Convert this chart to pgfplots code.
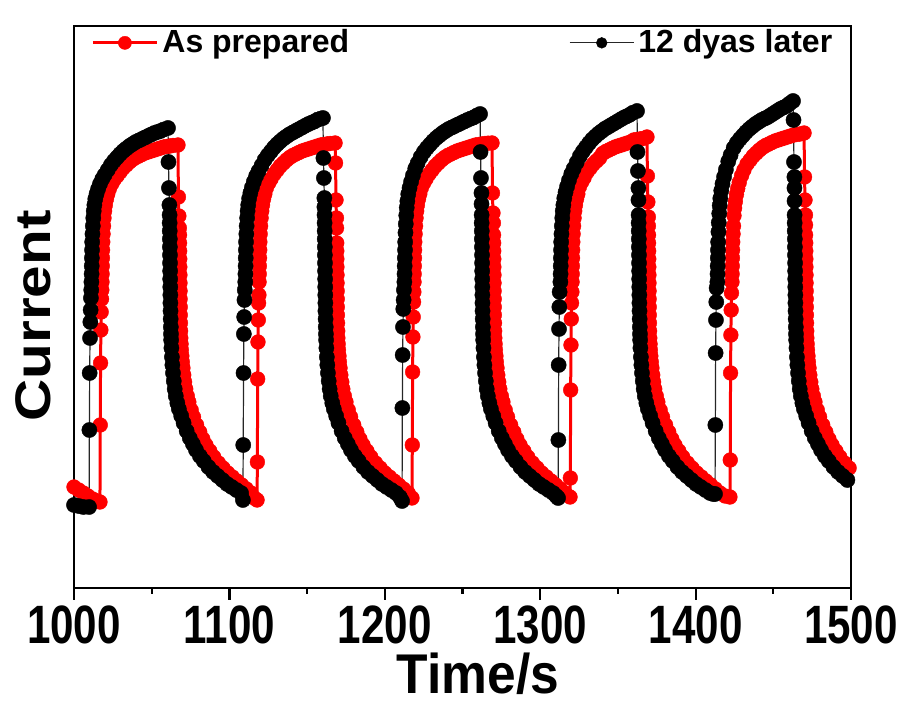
\documentclass[border=0pt]{standalone}
\usepackage{fontspec}
\setmainfont{Liberation Sans}
\usepackage{graphicx}
\usepackage{pgfplots}
\pgfplotsset{compat=1.18}
\newcommand\tl[1]{\scalebox{0.78}[1]{#1}}
\pgfplotsset{
  leg red/.style={legend image code/.code={\draw[mark repeat=2,mark phase=2,##1,mark size=3.3pt] plot coordinates {(0pt,0pt) (16pt,0pt) (32pt,0pt)};}},
  leg black/.style={legend image code/.code={\draw[mark repeat=2,mark phase=2,##1,mark size=2.7pt] plot coordinates {(0pt,0pt) (16pt,0pt) (32pt,0pt)};}},
}
\begin{document}
\begin{tikzpicture}
\begin{axis}[
  scale only axis, width=388.5pt, height=281pt,
  xmin=1000, xmax=1500, ymin=0, ymax=562,
  xtick={1000,1100,1200,1300,1400,1500},
  xticklabels={\tl{1000},\tl{1100},\tl{1200},\tl{1300},\tl{1400},\tl{1500}},
  minor x tick num=1,
  ytick=\empty,
  xtick pos=bottom,
  tick align=outside,
  major tick length=6pt, minor tick length=3pt,
  every tick/.style={black, line width=1.1pt},
  axis line style={line width=1.25pt},
  xticklabel style={font=\fontsize{27}{27}\selectfont\bfseries, inner sep=0pt, anchor=north, yshift=-2.5pt},
  xlabel={\scalebox{0.92}[1]{Time/s}},
  xlabel style={font=\fontsize{28}{28}\selectfont\bfseries, at={(axis description cs:0.52,-0.152)}, anchor=center, inner sep=0pt},
  ylabel={\scalebox{1.17}[1]{Current}},
  ylabel style={font=\fontsize{25}{25}\selectfont\bfseries, at={(axis description cs:-0.052,0.484)}, anchor=center, inner sep=0pt},
  legend columns=2,
  legend cell align=left,
  legend style={draw=none, fill=none, at={(axis description cs:0.0219,0.970)}, anchor=west, inner sep=0pt, font=\fontsize{16}{16}\selectfont\bfseries, /tikz/every even column/.append style={column sep=108pt}},
]
\coordinate (sw) at (rel axis cs:0,0);
\addplot[red, line width=1.5pt, mark=*, mark size=3.7pt, mark options={solid, fill=red, draw=red, line width=0.2pt}, leg red]
coordinates {
(1000,101) (1003,98) (1006,95) (1009,92) (1012,89) (1015,87)
(1016.7,86) (1016.9,163) (1017.1,225) (1017.3,258) (1017.5,276) (1017.7,289) (1017.9,298) (1018.0,306) (1018.1,314) (1018.2,322) (1018.3,330) (1018.4,338) (1018.5,346) (1018.7,354) (1019.0,362) (1019.3,370) (1019.7,377) (1020.2,383) (1020.9,389) (1021.7,394) (1022.7,399) (1024.2,404) (1025.7,408) (1027.7,412) (1029.7,416) (1031.7,420) (1033.7,423) (1035.7,426) (1037.7,428.5) (1039.7,430.5) (1041.7,432) (1043.7,433.5) (1045.7,435) (1047.7,436) (1049.7,437) (1051.7,438) (1053.7,439) (1055.7,440) (1057.7,441) (1059.7,441.5) (1061.7,442) (1063.7,442.5) (1066.9,443)
(1067.2,391) (1067.5,372) (1067.8,360) (1067.9,353) (1067.95,345) (1068.0,337) (1068.05,329) (1068.1,321) (1068.15,313) (1068.2,305) (1068.25,297) (1068.3,289) (1068.35,281) (1068.4,273) (1068.5,265) (1068.6,257) (1068.7,250) (1068.9,244) (1069.1,238) (1069.4,232) (1069.7,226) (1070.1,220) (1070.6,213) (1071.2,206) (1071.9,199) (1072.9,192) (1073.9,186) (1075.4,178) (1076.9,171) (1078.9,163) (1080.9,156) (1082.9,149) (1084.9,143) (1087.4,137) (1089.9,131) (1092.9,125) (1095.9,120) (1098.9,115) (1101.9,111) (1104.9,107) (1107.9,103) (1110.9,99) (1113.9,95) (1116.0,90)
(1117.8,88) (1118.0,126) (1118.2,209) (1118.4,246) (1118.6,268) (1118.8,285) (1119.0,293) (1119.1,306) (1119.2,314) (1119.3,322) (1119.4,330) (1119.5,338) (1119.6,346) (1119.8,354) (1120.1,362) (1120.4,370) (1120.8,377) (1121.3,383) (1122.0,389) (1122.8,394) (1123.8,400) (1125.3,405) (1126.8,409) (1128.8,414) (1130.8,418) (1132.8,422) (1134.8,425) (1136.8,428) (1138.8,430.5) (1140.8,432.5) (1142.8,434) (1144.8,435.5) (1146.8,437) (1148.8,438) (1150.8,439) (1152.8,440) (1154.8,441) (1156.8,442) (1158.8,443) (1160.8,443.5) (1162.8,444) (1164.8,444.5) (1168.0,445)
(1168.3,425) (1168.6,388) (1168.9,370) (1168.95,360) (1169.05,345) (1169.1,337) (1169.15,329) (1169.2,321) (1169.25,313) (1169.3,305) (1169.35,297) (1169.4,289) (1169.45,281) (1169.5,273) (1169.6,265) (1169.7,257) (1169.8,250) (1170.0,244) (1170.2,238) (1170.5,232) (1170.8,226) (1171.2,220) (1171.7,213) (1172.3,206) (1173.0,199) (1174.0,192) (1175.0,186) (1176.5,178) (1178.0,171) (1180.0,163) (1182.0,156) (1184.0,149) (1186.0,143) (1188.5,137) (1191.0,131) (1194.0,125) (1197.0,120) (1200.0,115) (1203.0,111) (1206.0,107) (1209.0,103) (1212.0,99) (1215.0,95)
(1217.5,90) (1217.7,143) (1217.9,216) (1218.1,251) (1218.3,271) (1218.5,286) (1218.7,296) (1218.8,306) (1218.9,314) (1219.0,322) (1219.1,330) (1219.2,338) (1219.3,346) (1219.5,354) (1219.8,362) (1220.1,370) (1220.5,377) (1221.0,383) (1221.7,389) (1222.5,394) (1223.5,400) (1225.0,405) (1226.5,409) (1228.5,414) (1230.5,418) (1232.5,422) (1234.5,425) (1236.5,428) (1238.5,430.5) (1240.5,432.5) (1242.5,434) (1244.5,435.5) (1246.5,437) (1248.5,438) (1250.5,439) (1252.5,440) (1254.5,441) (1256.5,442) (1258.5,443) (1260.5,443.5) (1262.5,444) (1264.5,444.5) (1266.5,444.8) (1269.0,445)
(1269.3,395) (1269.6,375) (1269.9,365) (1270.0,353) (1270.05,345) (1270.1,337) (1270.15,329) (1270.2,321) (1270.25,313) (1270.3,305) (1270.35,297) (1270.4,289) (1270.45,281) (1270.5,273) (1270.6,265) (1270.7,257) (1270.8,250) (1271.0,244) (1271.2,238) (1271.5,232) (1271.8,226) (1272.2,220) (1272.7,213) (1273.3,206) (1274.0,199) (1275.0,192) (1276.0,186) (1277.5,178) (1279.0,171) (1281.0,163) (1283.0,156) (1285.0,149) (1287.0,143) (1289.5,137) (1292.0,131) (1295.0,125) (1298.0,120) (1301.0,115) (1304.0,111) (1307.0,107) (1310.0,103) (1313.0,99) (1316.0,95)
(1319.2,91) (1319.4,110) (1319.6,198) (1319.8,243) (1320.0,269) (1320.2,285) (1320.4,296) (1320.5,306) (1320.6,314) (1320.7,322) (1320.8,330) (1320.9,338) (1321.0,346) (1321.2,354) (1321.5,362) (1321.8,370) (1322.2,377) (1322.7,383) (1323.4,389) (1324.2,394) (1325.2,401) (1326.7,406) (1328.2,410) (1330.2,416) (1332.2,420) (1334.2,424) (1336.2,427) (1338.2,430) (1340.2,434.5) (1342.2,436.5) (1344.2,438) (1346.2,439.5) (1348.2,441) (1350.2,442) (1352.2,443) (1354.2,444) (1356.2,445) (1358.2,446) (1360.2,448) (1362.2,448.5) (1364.2,449) (1366.2,449.5) (1368.7,451)
(1369.0,412) (1369.3,386) (1369.6,371) (1369.65,362) (1369.7,353) (1369.75,345) (1369.8,337) (1369.85,329) (1369.9,321) (1369.95,313) (1370.0,305) (1370.05,297) (1370.1,289) (1370.15,281) (1370.2,273) (1370.3,265) (1370.4,257) (1370.5,250) (1370.7,244) (1370.9,238) (1371.2,232) (1371.5,226) (1371.9,220) (1372.4,213) (1373.0,206) (1373.7,199) (1374.7,192) (1375.7,186) (1377.2,178) (1378.7,171) (1380.7,163) (1382.7,156) (1384.7,149) (1386.7,143) (1389.2,137) (1391.7,131) (1394.7,125) (1397.7,120) (1400.7,115) (1403.7,111) (1406.7,107) (1409.7,103) (1412.7,99) (1415.7,95) (1419.0,92)
(1422.1,91) (1422.3,128) (1422.5,215) (1422.7,253) (1422.9,278) (1423.1,295) (1423.4,306) (1423.5,314) (1423.6,322) (1423.7,330) (1423.8,338) (1423.9,346) (1424.1,354) (1424.4,362) (1424.7,372.4) (1425.1,380) (1425.6,386.6) (1426.3,393.6) (1427.1,399.5) (1428.1,405.6) (1429.6,412.4) (1431.1,418) (1433.1,424) (1435.1,428) (1437.1,432) (1439.1,435) (1441.1,438) (1443.1,440.5) (1445.1,442.5) (1447.1,444) (1449.1,445.5) (1451.1,447) (1453.1,448) (1455.1,449) (1457.1,450) (1459.1,451) (1461.1,452) (1463.1,453) (1465.1,453.5) (1467.1,454) (1469.8,455)
(1470.1,411) (1470.4,388) (1470.7,373) (1470.75,363) (1470.8,353) (1470.85,345) (1470.9,337) (1470.95,329) (1471.0,321) (1471.05,313) (1471.1,305) (1471.15,297) (1471.2,289) (1471.25,281) (1471.3,273) (1471.4,265) (1471.5,257) (1471.6,250) (1471.8,244) (1472.0,238) (1472.3,232) (1472.6,226) (1473.0,220) (1473.5,213) (1474.1,206) (1474.8,199) (1475.8,192) (1476.8,186) (1478.3,178) (1479.8,171) (1481.8,163) (1483.8,156) (1485.8,149) (1487.8,143) (1490.3,137) (1492.8,131) (1495.8,125) (1498.8,120) (1501.8,115)
};
\addlegendentry{As prepared}
\addplot[black!85, line width=0.6pt, mark=*, mark size=3.8pt, mark options={solid, fill=black, draw=black, line width=0.2pt}, leg black]
coordinates {
(1000,83) (1003,82) (1006,81)
(1009.7,81) (1009.9,158) (1010.1,215) (1010.3,250) (1010.5,266) (1010.7,278) (1010.9,290) (1011.1,298) (1011.2,306) (1011.3,314) (1011.4,322) (1011.5,330) (1011.6,338) (1011.7,346) (1011.9,354) (1012.1,362) (1012.4,370) (1012.7,377) (1013.1,383) (1013.7,389) (1014.5,394) (1015.5,399) (1016.7,404) (1018.2,409) (1019.7,413) (1021.7,418) (1023.7,423) (1025.7,427) (1027.7,430.5) (1029.7,434) (1031.7,437) (1033.7,439.5) (1035.7,442) (1037.7,444) (1039.7,446) (1041.7,447.5) (1043.7,449) (1045.7,450.5) (1047.7,452) (1049.7,453.5) (1051.7,455) (1053.7,456) (1055.7,457) (1057.7,458.5) (1060.5,460)
(1060.8,426) (1061.1,400) (1061.4,383) (1061.5,373) (1061.55,365) (1061.6,357) (1061.65,349) (1061.7,341) (1061.75,333) (1061.8,325) (1061.85,317) (1061.9,309) (1061.95,301) (1062.0,293) (1062.05,285) (1062.1,277) (1062.2,269) (1062.3,261) (1062.4,254) (1062.5,248) (1062.7,240) (1063.0,231) (1063.3,223) (1063.7,215) (1064.2,207) (1064.8,199) (1065.5,192) (1066.5,185) (1067.5,179) (1069.0,172) (1070.5,165) (1072.5,157) (1074.5,150) (1076.5,144) (1078.5,138) (1081.0,132) (1083.5,127) (1086.5,121) (1089.5,116) (1092.5,112) (1095.5,108) (1098.5,104) (1101.5,101) (1104.5,98) (1107.5,95)
(1108.7,88) (1108.9,143) (1109.1,215) (1109.3,254) (1109.5,271) (1109.7,288) (1109.9,298) (1110.2,306) (1110.3,314) (1110.4,322) (1110.5,330) (1110.6,338) (1110.7,346) (1110.9,354) (1111.1,362) (1111.4,370) (1111.7,377) (1112.1,383) (1112.7,389.5) (1113.5,395) (1114.5,400.5) (1115.7,406.2) (1117.2,412) (1118.7,416.7) (1120.7,422.5) (1122.7,428.2) (1124.7,432.7) (1126.7,436.6) (1128.7,440.5) (1130.7,443.8) (1132.7,446.6) (1134.7,449.3) (1136.7,451.5) (1138.7,453.7) (1140.7,455.4) (1142.7,457.1) (1144.7,458.8) (1146.7,460.5) (1148.7,462.2) (1150.7,463.9) (1152.7,465.2) (1154.7,466.5) (1156.7,468.3) (1158.7,469.3) (1160.2,470)
(1160.5,430) (1160.8,410) (1161.1,390) (1161.15,381) (1161.2,373) (1161.25,365) (1161.3,357) (1161.35,349) (1161.4,341) (1161.45,333) (1161.5,325) (1161.55,317) (1161.6,309) (1161.65,301) (1161.7,293) (1161.75,285) (1161.8,277) (1161.9,269) (1162.0,261) (1162.1,254) (1162.2,248) (1162.4,240) (1162.7,231) (1163.0,223) (1163.4,215) (1163.9,207) (1164.5,199) (1165.2,192) (1166.2,185) (1167.2,179) (1168.7,172) (1170.2,165) (1172.2,157) (1174.2,150) (1176.2,144) (1178.2,138) (1180.7,132) (1183.2,127) (1186.2,121) (1189.2,116) (1192.2,112) (1195.2,108) (1198.2,104) (1201.2,101) (1204.2,98) (1207.2,95) (1209.7,91)
(1211.1,87) (1211.3,180) (1211.5,233) (1211.7,261) (1211.9,279) (1212.1,288) (1212.3,298) (1212.6,306) (1212.7,314) (1212.8,322) (1212.9,330) (1213.0,338) (1213.1,346) (1213.3,355.3) (1213.5,364) (1213.8,372.6) (1214.1,380.3) (1214.5,386.9) (1215.1,393.9) (1215.9,400) (1216.9,406.2) (1218.1,412.5) (1219.6,419.4) (1221.1,424.7) (1223.1,431) (1225.1,436) (1227.1,440) (1229.1,443.5) (1231.1,447) (1233.1,450) (1235.1,452.5) (1237.1,455) (1239.1,457) (1241.1,459) (1243.1,460.5) (1245.1,462) (1247.1,463.5) (1249.1,465) (1251.1,466.5) (1253.1,468) (1255.1,469.3) (1257.1,470.5) (1259.1,472.3) (1261.3,474)
(1261.6,436) (1261.9,410) (1262.2,395) (1262.25,384) (1262.3,373) (1262.35,365) (1262.4,357) (1262.45,349) (1262.5,341) (1262.55,333) (1262.6,325) (1262.65,317) (1262.7,309) (1262.75,301) (1262.8,293) (1262.85,285) (1262.9,277) (1263.0,269) (1263.1,261) (1263.2,254) (1263.3,248) (1263.5,240) (1263.8,231) (1264.1,223) (1264.5,215) (1265.0,207) (1265.6,199) (1266.3,192) (1267.3,185) (1268.3,179) (1269.8,172) (1271.3,165) (1273.3,157) (1275.3,150) (1277.3,144) (1279.3,138) (1281.8,132) (1284.3,127) (1287.3,121) (1290.3,116) (1293.3,112) (1296.3,108) (1299.3,104) (1302.3,101) (1305.3,98) (1308.3,95) (1310.3,92)
(1311.5,90) (1311.7,148) (1311.9,223) (1312.1,259) (1312.3,281) (1312.5,296) (1313.0,306) (1313.1,314) (1313.2,322) (1313.3,330) (1313.4,338) (1313.5,346) (1313.7,354) (1313.9,362) (1314.2,370) (1314.5,377) (1314.9,383) (1315.5,389.8) (1316.3,395.7) (1317.3,401.5) (1318.5,407.7) (1320.0,414.1) (1321.5,419.3) (1323.5,425.6) (1325.5,431.8) (1327.5,436.7) (1329.5,440.9) (1331.5,445) (1333.5,448.6) (1335.5,451.6) (1337.5,454.4) (1339.5,456.7) (1341.5,459.1) (1343.5,460.9) (1345.5,462.8) (1347.5,464.6) (1349.5,466.4) (1351.5,468.3) (1353.5,470.1) (1355.5,471.6) (1357.5,473.1) (1359.5,475.2) (1362.3,477)
(1362.6,436) (1362.9,417) (1363.2,400) (1363.25,388) (1363.3,373) (1363.35,365) (1363.4,357) (1363.45,349) (1363.5,341) (1363.55,333) (1363.6,325) (1363.65,317) (1363.7,309) (1363.75,301) (1363.8,293) (1363.85,285) (1363.9,277) (1364.0,269) (1364.1,261) (1364.2,254) (1364.3,248) (1364.5,240) (1364.8,231) (1365.1,223) (1365.5,215) (1366.0,207) (1366.6,199) (1367.3,192) (1368.3,185) (1369.3,179) (1370.8,172) (1372.3,165) (1374.3,157) (1376.3,150) (1378.3,144) (1380.3,138) (1382.8,132) (1385.3,127) (1388.3,121) (1391.3,116) (1394.3,112) (1397.3,108) (1400.3,104) (1403.3,101) (1406.3,98) (1409.3,95) (1411.3,94)
(1412.5,94) (1412.7,163) (1412.9,235) (1413.1,268) (1413.3,286) (1413.5,300) (1414.0,306) (1414.1,314) (1414.2,322) (1414.3,330) (1414.4,338) (1414.5,346) (1414.7,356.2) (1414.9,365.3) (1415.2,374.4) (1415.5,382.5) (1415.9,389.6) (1416.5,397.4) (1417.3,404.1) (1418.3,411.1) (1419.5,418.3) (1421.0,426.6) (1422.5,432.8) (1424.5,440) (1426.5,445) (1428.5,449) (1430.5,452.5) (1432.5,456) (1434.5,459) (1436.5,461.5) (1438.5,464) (1440.5,466) (1442.5,468) (1444.5,469.5) (1446.5,471) (1448.5,473) (1450.5,475) (1452.5,477) (1454.5,479) (1456.5,480.5) (1458.5,482) (1460.5,484.5) (1462.7,487)
(1463.0,468) (1463.3,426) (1463.6,411) (1463.63,400) (1463.67,387) (1463.7,373) (1463.75,365) (1463.8,357) (1463.85,349) (1463.9,341) (1463.95,333) (1464.0,325) (1464.05,317) (1464.1,309) (1464.15,301) (1464.2,293) (1464.25,285) (1464.3,277) (1464.4,269) (1464.5,261) (1464.6,254) (1464.7,248) (1464.9,240) (1465.2,231) (1465.5,223) (1465.9,215) (1466.4,207) (1467.0,199) (1467.7,192) (1468.7,185) (1469.7,179) (1471.2,172) (1472.7,165) (1474.7,157) (1476.7,150) (1478.7,144) (1480.7,138) (1483.2,132) (1485.7,127) (1488.7,121) (1491.7,116) (1494.7,112) (1497.7,108) (1500.7,104)
};
\addlegendentry{12 dyas later}
\end{axis}
\pgfresetboundingbox
\path[use as bounding box] (sw) ++(-37pt,-59pt) rectangle ++(452.5pt,353pt);
\end{tikzpicture}
\end{document}
